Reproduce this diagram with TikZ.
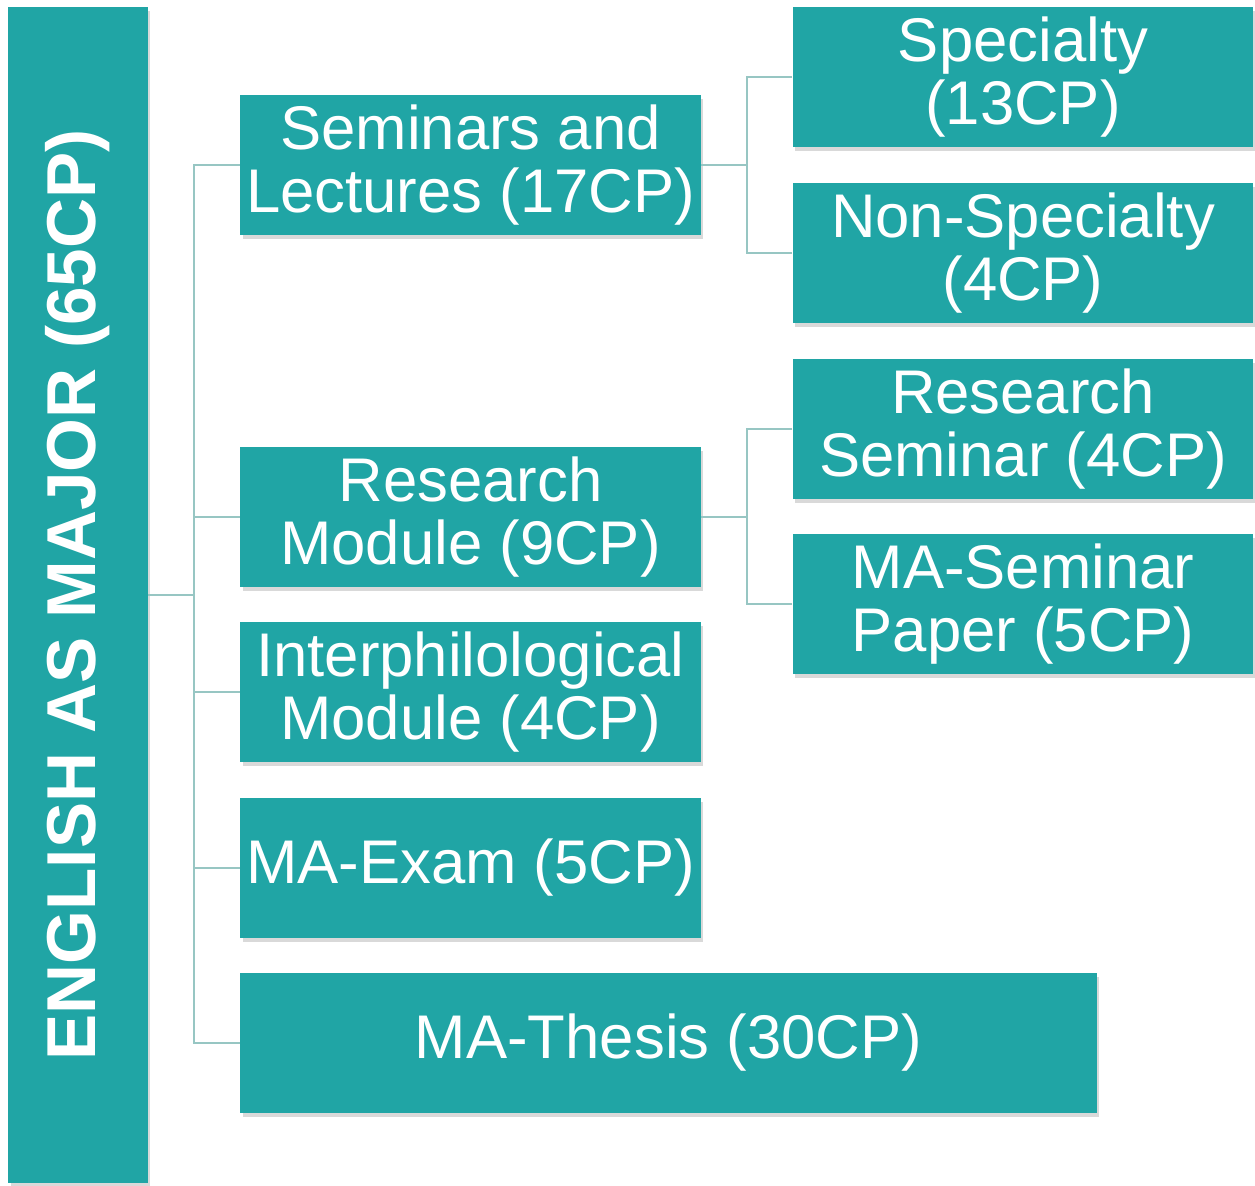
\documentclass[tikz,border=0pt]{standalone}
\usepackage{fontspec}
\setmainfont{Liberation Sans}
\usetikzlibrary{shadows}
\definecolor{teal}{HTML}{20A5A5}
\definecolor{linkcol}{HTML}{97C6C3}
\tikzset{
	box/.style = {fill = teal, text = white, align = center, inner sep = 0pt,
		minimum width = 9.22cm, minimum height = 2.8cm,
		font = \fontsize{35.1}{35.6}\selectfont,
		drop shadow = {shadow xshift = 0.05cm, shadow yshift = -0.08cm, opacity = 0.3}},
	link/.style = {draw = linkcol, line width = 1.1pt}
}
\begin{document}
\begin{tikzpicture}[x = 0.02cm, y = -0.02cm]
		\useasboundingbox (0, 0) rectangle (1255, 1186);
		% root
		\node[box, minimum width = 2.8cm, minimum height = 23.52cm] (root) at (78, 595)
			{\rotatebox{90}{\fontsize{39.4}{40}\selectfont\bfseries ENGLISH AS MAJOR (65CP)}};
		% first level
		\node[box] (sem) at (470.5, 165) {Seminars and\\Lectures (17CP)};
		\node[box] (resmod) at (470.5, 517) {Research\\Module (9CP)};
		\node[box] (inter) at (470.5, 692) {Interphilological\\Module (4CP)};
		\node[box] (exam) at (470.5, 868) {MA-Exam (5CP)};
		\node[box, minimum width = 17.14cm] (thesis) at (668.5, 1043) {MA-Thesis (30CP)};
		% second level
		\node[box] (spec) at (1023, 77) {Specialty\\(13CP)};
		\node[box] (nonspec) at (1023, 253) {Non-Specialty\\(4CP)};
		\node[box] (resem) at (1023, 429) {Research\\Seminar (4CP)};
		\node[box] (maspaper) at (1023, 604) {MA-Seminar\\Paper (5CP)};
		% connectors
		\coordinate (bus) at (194, 595);
		\coordinate (semjoint) at (747, 165);
		\coordinate (resjoint) at (747, 517);
		\draw[link] (root.east) -- (bus);
		\foreach \n in {sem, resmod, inter, exam, thesis}
			\draw[link] (\n.west) -| (bus);
		\draw[link] (sem.east) -- (semjoint);
		\draw[link] (spec.west) -| (semjoint);
		\draw[link] (nonspec.west) -| (semjoint);
		\draw[link] (resmod.east) -- (resjoint);
		\draw[link] (resem.west) -| (resjoint);
		\draw[link] (maspaper.west) -| (resjoint);
	\end{tikzpicture}
\end{document}
